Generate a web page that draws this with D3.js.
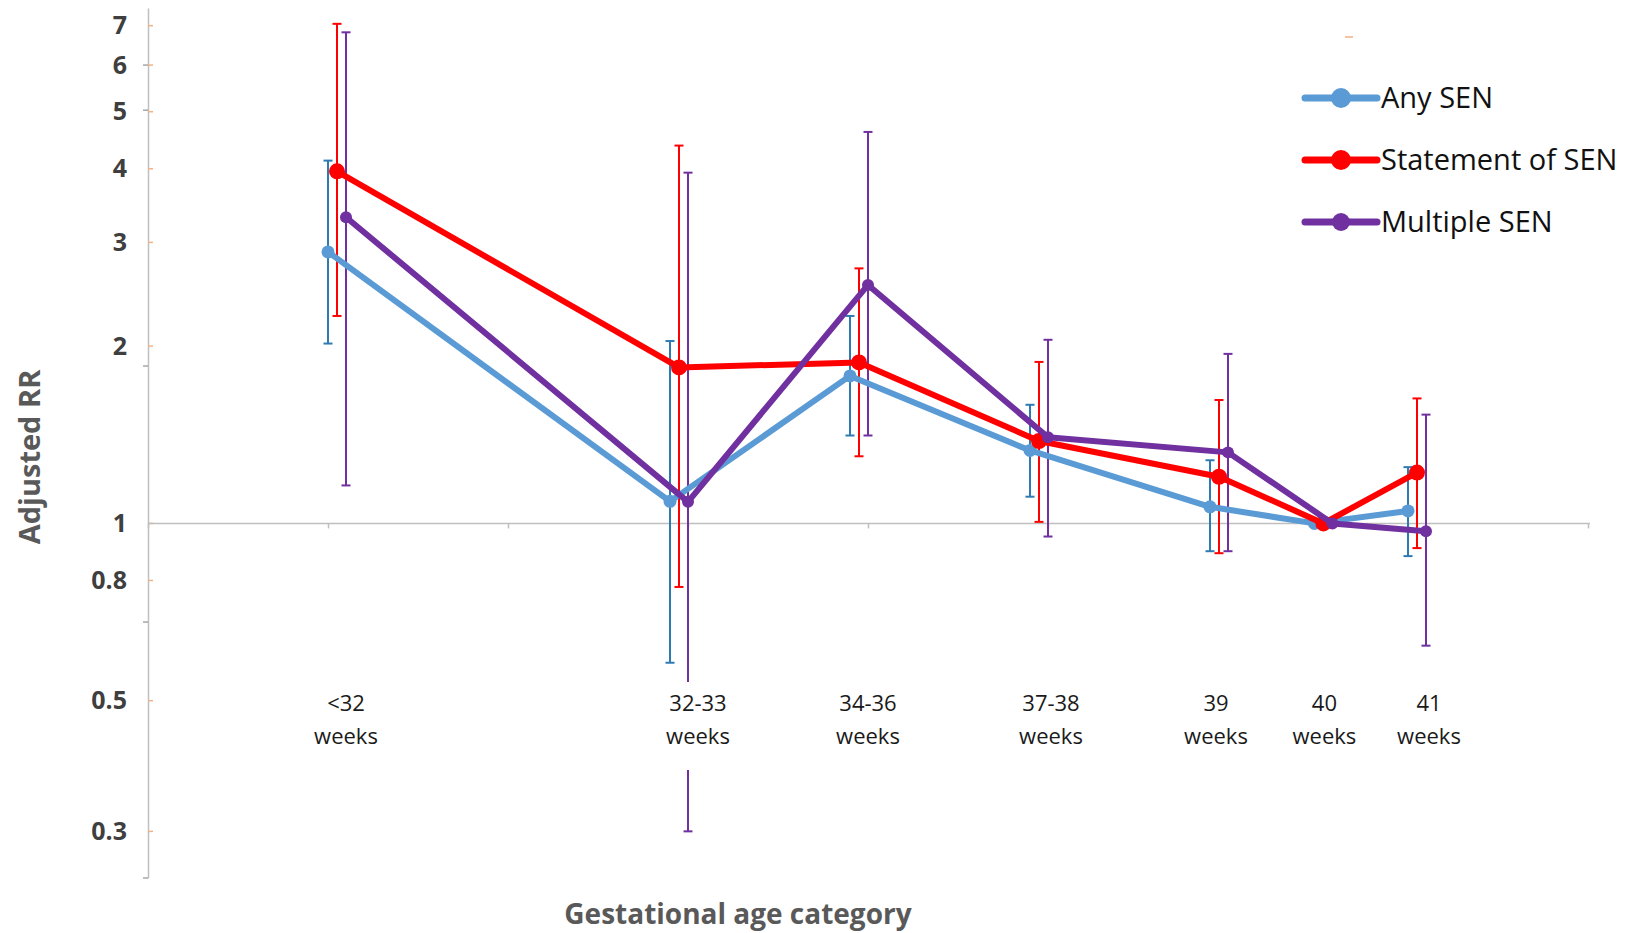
<!DOCTYPE html>
<html>
<head>
<meta charset="utf-8">
<script src="https://cdn.jsdelivr.net/npm/d3@7"></script>
<style>
  body { margin: 0; background: #fff; }
  svg { display: block; }
</style>
</head>
<body>
<svg width="1627" height="933"></svg>
<script>
// categories and their place on the (scatter-type) x axis
const categories = ['<32 weeks', '32-33 weeks', '34-36 weeks', '37-38 weeks', '39 weeks', '40 weeks', '41 weeks'];
const catPos = [1.1, 3.0, 4.0, 5.0, 6.0, 6.58, 7.1];

// adjusted RR with 95% CI, 40 weeks is the reference (no CI)
const anyRR = [2.89, 1.09, 1.78, 1.33, 1.067, 1.0, 1.05];
const anyLo = [2.02, 0.58, 1.41, 1.11, 0.897, null, 0.88];
const anyHi = [4.13, 2.04, 2.25, 1.59, 1.28, null, 1.246];

const stmtRR = [3.96, 1.84, 1.876, 1.38, 1.20, 1.0, 1.22];
const stmtLo = [2.25, 0.78, 1.30, 1.006, 0.89, null, 0.908];
const stmtHi = [7.05, 4.38, 2.71, 1.88, 1.62, null, 1.63];

const multRR = [3.31, 1.088, 2.54, 1.40, 1.32, 1.0, 0.97];
const multLo = [1.16, 0.30, 1.41, 0.95, 0.897, null, 0.62];
const multHi = [6.82, 3.94, 4.62, 2.05, 1.94, null, 1.53];

const yTicks = [0.3, 0.5, 0.8, 1, 2, 3, 4, 5, 6, 7];
const yMinor = [0.25, 0.68, 1.85, 5.03, 6];
const xTicks = [0, 1, 2, 3, 4, 5, 6, 7, 8];

const series = [
    {name: 'Any SEN', rr: anyRR, lo: anyLo, hi: anyHi, color: '#5b9bd5', bar: '#2e7bb4', shift: -0.1, r: 6.5},
    {name: 'Statement of SEN', rr: stmtRR, lo: stmtLo, hi: stmtHi, color: '#ff0000', bar: '#ff0000', shift: -0.05, r: 8},
    {name: 'Multiple SEN', rr: multRR, lo: multLo, hi: multHi, color: '#7030a0', bar: '#7030a0', shift: 0, r: 6}
];

// the text boxes under the axis were nudged by hand in the original
const labelNudge = [-3, 7, -3, 0, -15, -11, 0];

const svg = d3.select('svg');

const x = d3.scaleLinear().domain([0, 8]).range([148, 1588]);
const y = d3.scaleLog().domain([0.25, 7.5]).range([878, 8]);

// y axis
const yAxisG = svg.append('g')
    .attr('transform', `translate(${x(0)},0)`)
    .call(d3.axisLeft(y).tickValues(yTicks).tickFormat(d3.format('')).tickSize(0).tickPadding(21).tickSizeOuter(0));
yAxisG.select('.domain').attr('stroke', '#bfbfbf').attr('stroke-width', 1.5);
yAxisG.selectAll('.tick text')
    .attr('font-family', 'Open Sans')
    .attr('font-weight', 'bold')
    .attr('font-size', 25)
    .attr('fill', '#3f3f3f');

// little orange ticks at the labels, grey ones on the other side
yAxisG.selectAll('.otick')
    .data(yTicks)
    .join('line')
    .attr('x1', 0).attr('x2', 5)
    .attr('y1', d => y(d)).attr('y2', d => y(d))
    .attr('stroke', '#f4b183')
    .attr('stroke-width', 1.5);
yAxisG.selectAll('.gtick')
    .data(yMinor)
    .join('line')
    .attr('x1', -5).attr('x2', 0)
    .attr('y1', d => y(d)).attr('y2', d => y(d))
    .attr('stroke', '#a6a6a6')
    .attr('stroke-width', 1.5);

// x axis sits on RR = 1
const xAxisG = svg.append('g')
    .attr('transform', `translate(0,${y(1)})`)
    .call(d3.axisBottom(x).tickValues(xTicks).tickFormat('').tickSize(5).tickSizeOuter(0));
xAxisG.select('.domain').attr('stroke', '#bfbfbf').attr('stroke-width', 1.5)
    .attr('d', `M${x(0)},0H${x(8) + 2}`);
xAxisG.selectAll('.tick line').attr('stroke', '#bfbfbf').attr('stroke-width', 1.5);

const plotG = svg.append('g');
const line = d3.line()
    .x(d => d.x)
    .y(d => d.y);

// error bars first
series.forEach(s => {
    let pts = categories.map((c, i) => ({x: x(catPos[i] + s.shift), lo: s.lo[i], hi: s.hi[i]}))
        .filter(d => d.lo != null);
    let g = plotG.append('g');
    g.selectAll('line.v')
        .data(pts)
        .join('line')
        .attr('x1', d => d.x).attr('x2', d => d.x)
        .attr('y1', d => y(d.lo)).attr('y2', d => y(d.hi))
        .attr('stroke', s.bar).attr('stroke-width', 2);
    [ 'lo', 'hi' ].forEach(k => {
        g.selectAll('line.c' + k)
            .data(pts)
            .join('line')
            .attr('x1', d => d.x - 4.5).attr('x2', d => d.x + 4.5)
            .attr('y1', d => y(d[k])).attr('y2', d => y(d[k]))
            .attr('stroke', s.bar).attr('stroke-width', 2);
    });
});

// lines and markers
series.forEach(s => {
    let pts = categories.map((c, i) => ({x: x(catPos[i] + s.shift), y: y(s.rr[i])}));
    plotG.append('path')
        .datum(pts)
        .attr('d', line)
        .attr('fill', 'none')
        .attr('stroke', s.color)
        .attr('stroke-width', 6)
        .attr('stroke-linejoin', 'round');
    plotG.append('g').selectAll('circle')
        .data(pts)
        .join('circle')
        .attr('cx', d => d.x)
        .attr('cy', d => d.y)
        .attr('r', s.r)
        .attr('fill', s.color);
});

// category labels, on a white box (it hides the bar behind them)
const labelG = svg.append('g');
categories.forEach((c, i) => {
    let cx = x(catPos[i]) + 3 + labelNudge[i];
    labelG.append('rect')
        .attr('x', cx - 37).attr('y', 682)
        .attr('width', 74).attr('height', 88)
        .attr('fill', '#fff');
    let t = labelG.append('text')
        .attr('text-anchor', 'middle')
        .attr('font-family', 'Open Sans')
        .attr('font-size', 22)
        .attr('fill', '#1a1a1a');
    c.split(' ').forEach((w, j) => {
        t.append('tspan')
            .attr('x', cx)
            .attr('y', 711 + j * 33)
            .text(w);
    });
});

// axis titles
svg.append('text')
    .attr('transform', 'translate(40,457) rotate(-90)')
    .attr('text-anchor', 'middle')
    .attr('font-family', 'Open Sans')
    .attr('font-weight', 'bold')
    .attr('font-size', 29)
    .attr('fill', '#595959')
    .text('Adjusted RR');

svg.append('text')
    .attr('x', 738)
    .attr('y', 924)
    .attr('text-anchor', 'middle')
    .attr('font-family', 'Open Sans')
    .attr('font-weight', 'bold')
    .attr('font-size', 28)
    .attr('fill', '#595959')
    .text('Gestational age category');

// legend
const legend = svg.append('g').attr('transform', 'translate(1305,98)');
legend.append('line')
    .attr('x1', 40).attr('x2', 48).attr('y1', -61).attr('y2', -61)
    .attr('stroke', '#f4b183').attr('stroke-width', 1.5);
series.forEach((s, i) => {
    let row = legend.append('g').attr('transform', `translate(0,${i * 62})`);
    row.append('line')
        .attr('x1', 0).attr('x2', 72)
        .attr('stroke', s.color)
        .attr('stroke-width', 7)
        .attr('stroke-linecap', 'round');
    row.append('circle')
        .attr('cx', 36)
        .attr('r', i == 2 ? 9 : 10)
        .attr('fill', s.color);
    row.append('text')
        .attr('x', 76)
        .attr('dy', '0.35em')
        .attr('font-family', 'Open Sans')
        .attr('font-size', 29)
        .attr('fill', '#111')
        .text(s.name);
});
</script>
</body>
</html>
